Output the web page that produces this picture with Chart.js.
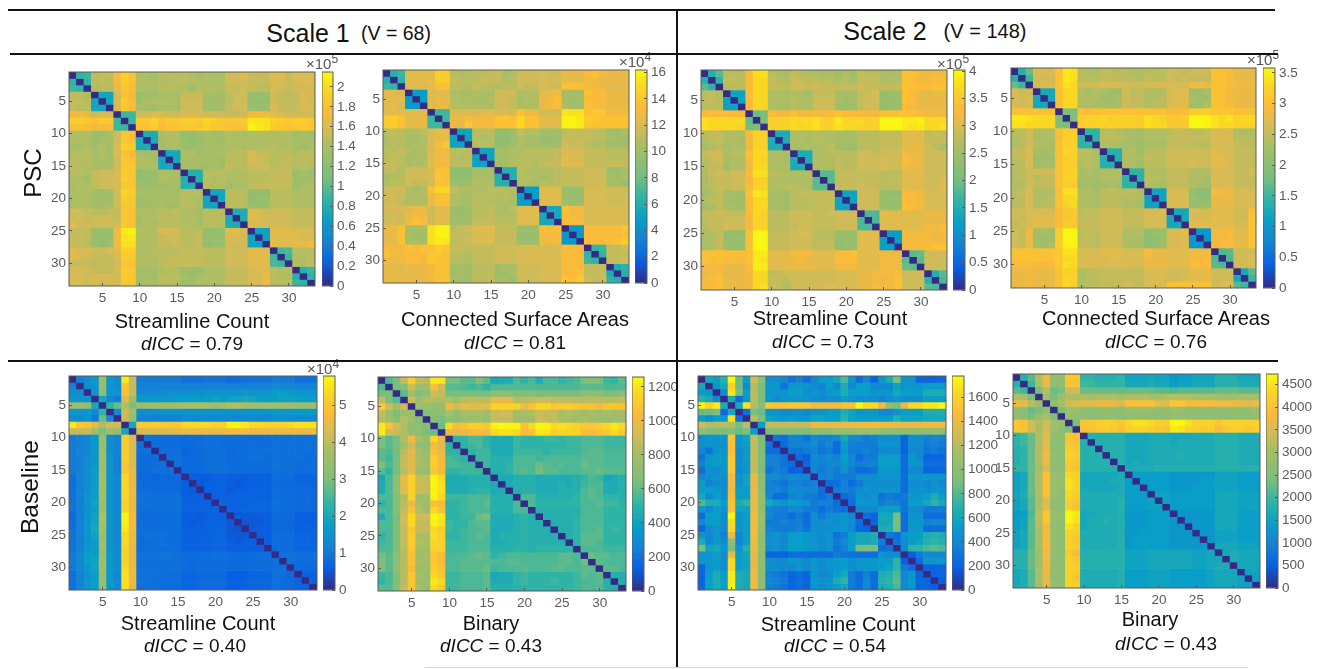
<!DOCTYPE html>
<html>
<head>
<meta charset="utf-8">
<title>dICC matrices</title>
<script src="https://cdn.jsdelivr.net/npm/chart.js@4"></script>
<style>
  html, body { margin: 0; background: #fff; overflow: hidden; }
  #page { position: relative; width: 1326px; height: 669px; font-family: "Liberation Sans", sans-serif; color: #111; }
  canvas { position: absolute; filter: blur(0.5px); }
  .txt { position: absolute; white-space: nowrap; transform: translate(-50%, -50%); }
  .rot { transform: translate(-50%, -50%) rotate(-90deg); }
  .exp { position: absolute; font-size: 15px; color: #555; white-space: nowrap; }
  .exp sup { font-size: 12px; line-height: 0; }
  .line { position: absolute; background: #111; }
  .faint { background: #d4d4d4; }
</style>
</head>
<body>
<div id="page"></div>
<script>
// cell values are % of the colorbar top, upper triangle only (row r, columns r+1..33), diagonal is 0
const pscS1Count = [
[40,42,68,70,70,80,90,84,66,66,63,67,68,68,68,66,64,66,65,65,72,72,76,70,70,70,76,76,70,74,74,74],
[40,68,70,68,80,88,84,66,66,64,66,67,67,68,66,66,66,66,65,72,72,72,70,70,70,74,74,70,74,74,74],
[66,68,68,78,86,82,66,65,65,68,67,66,66,62,66,66,66,66,70,70,72,70,68,68,74,72,70,72,72,72],
[33,33,72,84,80,60,62,62,64,64,64,70,70,70,63,63,63,68,72,72,60,60,60,72,70,68,70,74,74],
[33,74,88,82,60,64,66,66,66,64,72,72,72,62,62,63,68,72,72,60,58,58,72,70,70,70,74,72],
[74,86,82,64,64,62,64,64,64,72,72,72,62,62,64,70,72,72,60,60,60,74,70,70,70,74,74],
[42,42,72,72,74,74,72,72,74,74,74,72,72,72,70,70,72,80,80,80,76,74,72,72,72,72],
[42,86,86,90,84,86,86,88,88,86,91,88,86,86,86,86,96,94,94,90,88,86,88,88,86],
[84,84,88,82,84,86,86,86,86,88,86,86,84,84,84,98,96,94,88,86,84,86,86,86],
[36,36,64,66,66,58,58,62,64,62,62,66,64,64,66,66,66,66,66,66,62,64,62],
[36,64,66,66,60,58,60,64,64,62,66,66,66,66,66,66,66,66,66,64,64,64],
[64,64,66,60,60,62,64,64,64,66,66,64,66,66,66,68,66,66,64,62,64],
[34,34,66,66,62,64,64,64,68,68,68,74,70,70,68,68,68,66,68,68],
[34,66,64,64,64,64,62,68,68,68,74,72,70,68,68,70,68,68,68],
[64,64,64,62,64,62,70,68,68,72,72,72,68,70,70,66,68,66],
[38,38,68,68,68,66,66,66,68,68,68,70,70,70,60,64,60],
[38,68,66,68,66,66,66,68,68,68,70,70,70,62,62,62],
[68,66,66,62,64,64,68,70,70,70,70,70,60,64,66],
[33,33,68,68,68,58,58,58,68,68,68,66,66,66],
[33,68,68,68,58,60,60,68,68,68,66,66,66],
[68,68,68,60,60,60,68,68,68,66,66,66],
[36,36,76,74,72,72,72,72,70,70,70],
[36,76,74,72,72,72,72,70,70,70],
[74,74,72,72,72,72,70,70,70],
[32,32,76,76,76,74,74,74],
[32,76,76,76,76,74,74],
[76,76,76,76,78,80],
[42,44,68,68,68],
[42,66,66,68],
[68,66,68],
[38,42],
[40]
];
const pscS1Area = [
[38,42,76,76,76,76,88,88,68,66,66,68,68,70,70,64,66,72,72,72,74,72,72,78,78,78,82,84,80,78,78,78],
[40,76,76,76,78,88,88,70,68,68,68,70,70,70,66,68,72,72,72,74,72,74,78,78,76,80,80,78,78,78,78],
[74,76,74,76,84,84,68,68,66,70,68,68,66,68,68,72,70,70,74,72,72,84,84,84,80,80,78,76,76,78],
[30,30,76,76,76,66,64,64,66,64,64,72,72,72,66,66,66,76,78,80,64,64,64,84,82,82,78,78,78],
[30,76,78,78,66,64,66,64,64,66,72,72,70,64,66,66,78,80,84,64,62,64,82,82,82,78,78,78],
[76,78,78,68,66,66,66,66,66,72,72,70,66,66,66,78,80,82,66,62,64,84,82,80,78,78,78],
[42,42,74,74,74,74,76,76,74,74,74,84,78,78,72,72,72,94,94,94,84,86,86,80,80,80],
[42,78,78,82,80,80,80,84,86,84,92,84,84,76,76,76,98,98,96,88,86,84,84,84,84],
[78,78,86,80,80,80,84,84,84,92,84,84,76,76,76,98,98,96,86,84,84,84,84,84],
[32,32,68,68,68,58,58,60,70,66,66,62,62,62,68,70,70,70,68,68,62,62,64],
[32,68,66,68,56,56,60,66,64,64,60,60,62,70,70,70,70,68,68,64,64,62],
[68,68,68,58,58,62,66,64,64,62,62,62,72,70,72,68,66,66,62,62,62],
[32,32,64,64,66,66,68,68,68,68,70,74,74,74,70,70,70,68,68,68],
[32,64,64,66,66,68,68,68,68,70,76,74,74,70,70,70,68,68,68],
[64,64,66,68,68,66,70,70,70,76,76,76,70,70,70,70,70,70],
[38,38,68,66,66,66,66,68,70,70,70,72,72,72,62,60,64],
[38,68,68,66,64,66,68,70,70,70,72,72,72,64,62,64],
[66,66,64,68,66,68,70,70,70,72,72,72,64,64,60],
[30,30,76,76,76,60,60,60,74,74,74,72,72,72],
[30,76,76,76,60,60,60,74,74,74,72,72,72],
[76,76,76,62,60,60,74,74,74,72,72,72],
[34,34,84,80,80,74,74,74,74,74,74],
[34,82,80,80,74,74,74,74,74,74],
[84,82,82,74,74,74,74,74,74],
[28,28,82,82,82,82,82,86],
[28,82,82,82,82,82,84],
[82,82,82,82,84,88],
[40,42,70,70,72],
[40,70,70,70],
[70,70,72],
[36,40],
[38]
];
const pscS2Count = [
[38,46,68,68,68,82,94,94,68,66,64,70,68,66,66,64,66,62,66,62,70,68,68,66,64,66,84,84,80,78,80,80],
[40,70,70,68,82,92,92,70,68,66,72,70,70,70,68,68,66,68,64,70,70,70,66,66,66,84,82,80,80,82,82],
[66,68,68,82,92,92,70,70,68,72,72,70,72,70,70,70,70,70,72,70,70,70,70,70,84,84,82,82,84,84],
[32,32,82,92,92,66,66,64,66,64,62,70,70,70,64,64,64,70,72,74,58,60,62,84,82,78,76,78,78],
[32,82,92,92,66,66,66,68,66,66,72,72,72,64,62,64,70,72,72,60,60,60,84,82,78,78,78,78],
[82,92,90,66,64,64,68,66,66,72,72,72,62,62,62,70,72,72,58,60,60,82,80,78,78,78,78],
[48,50,82,80,80,84,80,80,82,80,82,84,82,82,82,80,80,84,84,84,84,84,82,80,80,80],
[52,90,90,90,92,92,92,94,90,90,96,92,92,92,90,90,99,99,99,96,96,98,92,92,92],
[90,90,90,92,90,92,94,90,90,94,92,92,90,90,90,99,99,99,96,94,96,92,92,94],
[36,36,66,66,66,68,66,66,64,64,64,68,68,68,70,70,70,76,76,76,68,70,70],
[36,66,66,64,68,66,66,64,64,64,68,68,68,70,70,70,76,76,76,70,70,70],
[64,64,66,66,66,68,62,62,62,68,68,68,70,70,70,76,78,78,72,68,66],
[36,36,66,66,68,68,68,68,72,72,70,72,72,72,80,78,78,72,72,72],
[36,66,66,66,70,68,68,72,72,72,74,72,72,82,80,78,72,72,72],
[66,66,66,70,68,68,72,72,72,74,72,72,80,78,78,72,72,72],
[46,46,70,70,70,70,70,70,68,68,68,76,76,76,72,72,72],
[46,70,70,70,70,70,70,68,70,70,76,76,76,72,72,74],
[70,70,70,72,70,70,68,68,70,76,76,76,72,72,76],
[32,32,72,72,72,60,58,58,82,82,80,74,74,74],
[32,72,72,72,60,60,60,82,82,80,74,74,74],
[72,72,72,60,60,60,84,82,80,74,74,74],
[44,44,76,76,76,76,76,76,78,78,78],
[44,76,76,76,76,76,76,78,78,78],
[76,76,76,78,76,76,80,80,82],
[30,30,80,80,80,80,78,80],
[30,80,80,80,80,80,80],
[80,80,80,82,84,84],
[46,48,72,72,72],
[46,72,72,72],
[72,72,72],
[38,46],
[44]
];
const pscS2Area = [
[38,48,74,74,74,84,96,94,68,66,66,70,68,68,68,66,66,68,68,68,72,72,70,72,72,72,84,84,82,78,78,78],
[42,72,72,72,84,96,94,68,68,68,70,70,68,68,68,66,70,68,68,72,70,72,70,70,70,84,84,82,78,78,78],
[72,74,74,84,94,92,72,72,72,74,74,74,72,72,72,74,74,74,74,74,74,80,80,78,84,84,82,80,80,80],
[34,34,84,92,92,66,64,66,64,62,62,72,68,70,66,66,66,74,76,76,62,62,64,84,84,80,78,78,78],
[34,84,92,92,66,66,66,62,62,64,72,70,70,66,66,68,74,76,76,64,62,62,84,84,80,78,78,78],
[84,92,92,66,66,64,64,62,64,72,70,70,66,68,68,74,76,76,62,62,66,84,84,82,78,78,78],
[52,52,84,82,84,84,84,84,84,84,84,84,84,84,82,82,82,88,88,88,86,86,86,84,84,84],
[52,88,90,90,92,88,90,90,90,88,94,92,90,86,86,88,99,99,98,94,92,94,90,92,92],
[88,90,90,90,90,88,90,90,88,94,92,92,86,86,86,99,99,98,94,92,92,90,90,90],
[40,40,68,68,66,64,64,62,66,66,66,68,70,70,68,68,70,74,74,74,66,64,66],
[40,68,68,68,66,64,64,66,66,66,70,70,70,70,70,70,74,74,74,68,68,68],
[66,66,66,64,64,60,64,64,64,70,70,70,68,68,68,74,74,74,70,68,68],
[38,38,66,66,62,68,68,68,72,72,72,72,72,72,76,74,74,70,70,70],
[38,66,66,64,70,68,68,72,72,72,72,72,72,76,76,74,70,70,70],
[66,66,62,68,68,68,72,72,72,74,72,72,76,76,74,70,70,70],
[40,40,68,66,66,70,70,70,66,66,66,74,74,74,70,70,72],
[40,68,68,66,70,70,70,66,66,64,74,74,74,70,70,70],
[66,66,64,70,70,70,66,64,64,74,74,74,70,70,70],
[32,32,74,74,74,58,56,56,82,80,78,74,74,74],
[32,74,74,74,60,58,58,78,78,78,74,74,74],
[74,74,74,60,60,60,78,78,78,74,74,74],
[34,34,74,74,74,76,76,76,72,72,84],
[34,74,74,74,76,76,76,72,72,84],
[76,76,76,76,76,76,74,74,84],
[28,28,80,80,82,76,76,84],
[28,80,80,82,76,76,84],
[80,82,82,78,78,84],
[44,46,72,72,72],
[44,72,72,74],
[72,72,74],
[34,46],
[42]
];
const baseS1Count = [
[20,24,28,60,28,24,96,70,18,18,18,18,18,18,15,15,15,16,16,16,13,14,15,16,16,16,18,18,18,15,15,15],
[24,26,60,26,24,86,70,20,20,20,20,20,20,20,20,20,20,20,20,20,20,20,20,20,20,22,22,22,20,20,20],
[26,58,28,26,84,70,22,22,22,24,24,24,24,24,24,26,26,26,26,26,28,26,26,26,30,30,28,26,26,26],
[34,22,18,76,62,28,28,28,28,28,30,30,30,30,30,32,30,32,32,34,32,30,30,30,32,32,30,30,30],
[40,48,66,50,60,60,60,62,62,62,64,64,64,64,62,62,66,66,64,62,62,62,60,62,62,60,60,60],
[22,72,62,24,24,24,26,26,26,26,26,26,26,26,26,26,26,26,26,26,26,28,28,28,28,28,28],
[72,58,20,20,20,20,20,20,22,22,22,22,22,22,22,22,22,22,22,22,24,24,24,22,22,22],
[34,88,88,88,88,86,86,92,92,92,92,90,90,98,98,96,92,92,90,90,90,92,94,94,94],
[74,74,74,74,74,76,78,78,78,78,78,78,80,80,80,78,78,78,78,78,78,78,78,78],
[15,15,14,14,14,13,14,14,15,15,15,14,14,14,14,14,14,15,15,15,15,15,15],
[15,14,14,14,13,13,14,15,15,14,14,14,14,15,14,14,15,15,15,15,15,15],
[14,14,15,12,13,13,15,15,15,13,14,14,15,15,15,15,15,15,15,15,15],
[15,15,13,13,13,15,15,15,13,14,14,15,15,14,16,15,15,15,14,14],
[15,13,13,13,15,15,15,14,14,14,14,14,14,16,15,15,14,14,14],
[13,13,13,15,15,15,14,14,14,14,14,14,15,15,15,14,14,14],
[10,10,10,11,11,10,10,10,11,11,11,14,14,14,12,12,12],
[9,10,11,11,10,9,10,10,11,11,14,13,13,12,12,12],
[10,11,11,9,10,10,11,11,11,14,14,14,13,13,13],
[11,11,11,11,11,11,11,11,14,14,14,13,13,13],
[12,11,11,11,12,12,12,15,14,14,13,13,13],
[11,11,12,12,12,12,15,14,14,13,13,13],
[9,9,9,10,10,14,13,13,10,10,10],
[8,9,9,10,13,13,13,10,10,10],
[9,10,10,13,13,13,10,11,11],
[10,10,14,14,14,12,12,12],
[10,14,14,14,12,12,12],
[14,14,14,12,12,12],
[15,15,15,15,15],
[15,14,14,14],
[13,13,13],
[11,11],
[11]
];
const baseS1Binary = [
[44,50,70,88,70,68,96,96,50,50,46,46,52,46,34,36,36,44,40,44,36,44,44,40,42,44,50,52,50,42,40,46],
[50,52,72,60,62,84,72,46,46,44,42,44,40,44,44,44,44,44,44,44,44,44,44,44,44,46,46,46,44,44,44],
[46,62,52,56,72,70,50,50,50,50,50,50,56,56,56,54,54,54,50,52,52,52,52,52,56,56,56,52,52,54],
[72,60,68,66,66,66,62,68,70,70,68,78,78,76,66,68,70,72,72,70,70,70,68,68,68,68,68,68,70],
[60,60,56,58,80,72,78,76,76,76,90,90,90,90,78,84,92,92,86,88,88,86,84,84,80,86,86,84],
[54,56,56,64,58,64,64,64,62,70,72,72,62,64,66,72,70,70,64,66,64,62,64,62,64,62,64],
[54,50,58,56,60,60,62,58,70,70,70,62,62,62,72,70,70,64,64,62,64,62,60,60,60,60],
[48,92,82,84,88,88,86,98,99,98,98,84,92,99,98,92,94,92,90,86,86,88,92,96,92],
[78,76,78,80,82,80,92,94,94,92,82,84,96,94,88,90,90,90,82,82,84,86,92,86],
[40,40,44,44,40,36,36,36,42,40,40,40,42,42,40,42,42,44,44,44,42,42,42],
[40,42,44,40,36,36,36,42,40,40,40,40,40,40,42,42,44,44,44,42,42,42],
[40,42,42,36,36,36,42,42,42,42,40,42,42,42,42,44,46,46,44,44,44],
[42,42,38,38,38,44,44,44,42,44,44,44,44,44,46,46,46,44,44,44],
[42,38,38,40,44,44,44,48,46,44,46,44,44,48,46,46,44,44,44],
[38,38,40,44,46,44,50,46,46,44,44,44,46,46,48,46,46,46],
[36,36,38,38,38,36,36,36,36,36,38,40,44,42,34,36,38],
[36,38,38,38,36,36,36,38,36,38,42,44,44,36,36,38],
[38,38,38,36,36,36,38,38,38,44,46,44,36,36,38],
[44,44,38,38,38,38,38,40,44,46,44,40,40,38],
[44,40,40,40,40,40,40,44,44,46,42,42,40],
[38,38,38,38,38,38,44,44,44,40,40,40],
[38,38,38,38,40,44,44,44,40,40,40],
[38,38,38,40,44,44,44,40,40,40],
[38,38,40,44,44,46,40,42,40],
[38,40,46,46,46,40,40,40],
[40,46,46,44,40,40,40],
[44,44,44,42,42,42],
[48,46,46,44,44],
[46,44,44,44],
[46,46,44],
[38,38],
[38]
];
const baseS2Count = [
[34,30,38,99,48,30,72,56,24,24,22,16,20,14,22,30,30,34,44,28,14,22,12,28,36,50,26,26,12,12,12,12],
[28,34,90,48,24,66,52,28,26,16,28,28,26,24,20,30,22,36,22,30,30,22,22,22,32,26,28,26,30,30,30],
[22,96,52,30,68,52,26,26,26,30,30,24,26,24,28,30,36,30,30,30,26,28,28,34,30,30,30,36,36,36],
[36,14,28,68,50,28,24,26,28,28,26,24,22,24,24,30,26,24,24,24,20,24,28,24,24,24,30,30,30],
[34,94,66,54,86,84,84,86,86,86,80,80,80,82,84,84,99,92,92,80,56,52,78,92,92,96,96,99],
[14,50,48,26,26,24,24,24,22,26,26,30,30,36,32,26,26,28,22,22,26,30,30,30,36,36,36],
[68,52,32,30,28,30,28,26,32,32,30,30,40,32,30,30,30,30,30,38,32,32,32,34,34,34],
[30,70,70,70,70,70,70,78,78,78,78,78,78,80,80,80,80,80,78,78,78,78,80,80,80],
[52,52,52,52,52,52,56,56,56,58,58,58,60,60,60,56,56,56,56,56,56,56,56,56],
[16,14,20,20,16,24,20,20,22,34,22,22,18,20,24,24,24,12,24,24,20,22,20],
[14,20,20,20,24,18,22,14,30,20,18,18,18,26,26,26,12,24,24,18,20,18],
[16,16,18,20,16,18,14,28,18,18,20,18,22,22,22,12,22,22,16,18,16],
[14,10,24,20,24,20,30,22,14,18,18,30,30,30,14,28,22,12,12,12],
[12,22,20,22,22,28,22,18,20,20,30,30,30,14,26,26,14,14,14],
[22,18,22,18,26,18,14,14,16,28,28,28,14,22,22,12,12,12],
[20,22,18,18,18,24,24,24,26,26,26,14,28,26,28,28,28],
[14,14,20,14,18,24,24,24,24,24,14,24,24,22,26,22],
[18,20,18,24,26,24,26,26,26,14,26,26,24,26,26],
[14,16,26,24,26,16,18,16,18,28,28,30,36,30],
[14,28,26,28,18,22,20,16,30,30,34,40,34],
[22,24,22,30,30,30,16,24,24,18,18,18],
[14,12,34,34,50,14,26,26,14,14,14],
[12,34,34,52,14,28,28,20,22,22],
[36,36,50,14,28,28,14,14,14],
[18,14,26,30,30,36,38,36],
[16,24,30,32,38,40,38],
[24,40,40,44,46,44],
[10,18,22,22,22],
[14,28,28,28],
[12,12,12],
[12,12],
[10]
];
const baseS2Binary = [
[38,46,66,80,58,58,86,86,40,40,38,38,38,40,32,32,32,34,32,32,28,30,30,32,32,32,38,38,38,34,34,34],
[42,64,78,56,56,84,84,42,42,40,40,40,40,34,34,34,36,34,34,30,32,32,34,34,34,38,38,38,36,36,36],
[50,68,48,50,72,72,48,48,48,48,48,48,48,48,48,48,46,46,44,46,46,46,46,46,48,48,48,46,46,46],
[62,50,60,66,64,66,64,66,66,66,64,66,66,66,64,64,66,68,68,66,64,64,64,62,62,62,64,64,64],
[58,64,72,74,76,76,78,80,78,74,84,84,84,84,76,76,86,86,80,82,82,82,80,80,80,78,76,78],
[52,62,62,58,56,56,58,58,56,60,60,60,60,58,58,60,60,58,58,58,58,58,58,58,58,58,60],
[60,56,56,56,56,56,56,56,58,58,58,56,56,56,58,58,58,56,56,56,56,56,56,56,56,56],
[52,86,86,88,90,88,86,92,94,94,92,88,88,99,99,94,90,90,90,86,90,90,90,90,90],
[84,84,86,88,86,84,90,90,90,88,86,84,96,94,90,88,86,88,82,86,88,88,86,88],
[38,38,38,38,38,34,34,34,36,36,36,34,34,34,36,36,36,38,38,38,36,36,36],
[38,38,38,38,34,34,34,36,36,36,34,36,36,36,36,36,38,38,38,36,36,36],
[38,38,38,34,34,34,36,36,36,36,36,36,36,36,36,38,38,38,36,36,36],
[38,38,34,34,34,36,36,36,36,38,36,36,36,36,38,38,38,36,36,36],
[38,34,36,34,36,36,36,36,36,36,36,36,36,38,38,38,36,36,36],
[36,36,36,36,38,38,38,38,38,38,38,38,38,38,38,38,38,38],
[30,30,30,30,30,28,28,28,28,28,28,32,32,32,30,30,30],
[30,30,30,30,28,28,28,28,30,30,32,32,32,30,30,30],
[30,30,30,28,28,28,30,30,30,32,32,32,30,30,30],
[32,32,30,30,30,30,30,30,34,34,34,32,32,32],
[32,30,30,30,30,30,30,34,34,34,32,32,32],
[30,30,30,30,30,30,34,34,34,32,32,32],
[26,26,28,28,28,34,34,34,30,30,30],
[26,28,28,28,34,34,34,30,30,30],
[28,28,28,34,34,34,30,30,30],
[28,28,32,32,32,30,30,30],
[28,32,32,32,30,30,30],
[34,34,34,32,32,32],
[34,36,34,34,34],
[36,34,34,34],
[34,34,34],
[32,32],
[32]
];

// colorbars: top value and tick labels
const barTops = [2.15, 16.2, 4.02, 3.58, 5.8, 1258, 1780, 4736];
const barTicks = [
  [0,0.2,0.4,0.6,0.8,1,1.2,1.4,1.6,1.8,2],
  [0,2,4,6,8,10,12,14,16],
  [0,0.5,1,1.5,2,2.5,3,3.5,4],
  [0,0.5,1,1.5,2,2.5,3,3.5],
  [0,1,2,3,4,5],
  [0,200,400,600,800,1000,1200],
  [0,200,400,600,800,1000,1200,1400,1600],
  [0,500,1000,1500,2000,2500,3000,3500,4000,4500]
];
const matrices = [pscS1Count, pscS1Area, pscS2Count, pscS2Area, baseS1Count, baseS1Binary, baseS2Count, baseS2Binary];
const exponents = ["5", "4", "5", "5", "4"];
const axisLabels = ["1","2","3","4","5","6","7","8","9","10","11","12","13","14","15","16","17","18","19","20","21","22","23","24","25","26","27","28","29","30","31","32","33"];
const axisTicks = [5, 10, 15, 20, 25, 30];

// layout: heatmap box [x, y, w, h], colorbar [x, w], exponent position [x, y]
const plotBoxes = [
  [69, 72, 246, 214], [383, 70, 246, 213], [701, 70, 246, 220], [1011, 68, 245, 220],
  [69, 376, 248, 214], [378, 377, 248, 214], [698, 376, 248, 214], [1013, 374, 247, 214]
];
const barBoxes = [[322, 11], [635, 12], [953, 12], [1263, 12], [323, 12], [632, 12], [952, 12], [1266, 12]];
const expBoxes = [[306, 55], [619, 53], [937, 55], [1247, 51], [307, 360]];

// page text: [text, center x, center y, font px]
const labels = [
  ["Scale 1", 308, 33, 25], ["(V = 68)", 396, 33, 19.5], ["Scale 2", 885, 31, 25], ["(V = 148)", 985, 31, 20],
  ["Streamline Count", 192, 321, 20], ["Connected Surface Areas", 515, 319, 20],
  ["Streamline Count", 830, 318, 20], ["Connected Surface Areas", 1156, 318, 20],
  ["Streamline Count", 198, 623, 20], ["Binary", 491, 623, 20],
  ["Streamline Count", 838, 624, 20], ["Binary", 1150, 619, 20]
];
const scores = [
  ["0.79", 192, 344], ["0.81", 515, 343], ["0.73", 823, 342], ["0.76", 1156, 342],
  ["0.40", 195, 646], ["0.43", 491, 646], ["0.54", 835, 646], ["0.43", 1166, 644]
];
const rowNames = [["PSC", 33, 173, 24], ["Baseline", 30, 487, 24.5]];
// rules: [x, y, w, h, class]
const rules = [[8, 9, 1267, 2, ""], [10, 53, 1268, 2, ""], [8, 360, 1270, 2, ""], [676, 10, 2, 658, ""], [425, 667, 823, 1, "faint"]];

// parula-like colormap
const stops = [
  [0, 53, 42, 135], [0.1, 8, 95, 225], [0.2, 20, 130, 212], [0.3, 8, 158, 200], [0.4, 46, 180, 166],
  [0.5, 120, 190, 125], [0.65, 170, 190, 100], [0.73, 212, 187, 85], [0.82, 250, 187, 58], [0.92, 250, 215, 35], [1, 249, 251, 14]
];
function parula(t) {
  let i = 1;
  while (i < stops.length - 1 && stops[i][0] < t) i++;
  const a = stops[i - 1], b = stops[i];
  const k = Math.min(1, Math.max(0, (t - a[0]) / (b[0] - a[0])));
  const c = [1, 2, 3].map(j => Math.round(a[j] + (b[j] - a[j]) * k));
  return `rgb(${c[0]},${c[1]},${c[2]})`;
}

const page = document.getElementById("page");
const axisColor = "#5a5a5a";
const tickFont = { family: "'Liberation Sans', sans-serif", size: 13.5 };

// MATLAB style closed box round the plot
const boxPlugin = {
  id: "box",
  afterDraw(chart) {
    const a = chart.chartArea, ctx = chart.ctx;
    ctx.save();
    ctx.strokeStyle = axisColor;
    ctx.lineWidth = 1;
    ctx.strokeRect(a.left, a.top, a.right - a.left, a.bottom - a.top);
    ctx.restore();
  }
};

// scales otherwise ask for room for half a tick label and the plot box moves
function noPadding(s) {
  s.paddingTop = 0;
  s.paddingBottom = 0;
  s.paddingLeft = 0;
  s.paddingRight = 0;
}

function addCanvas(x, y, w, h) {
  const c = document.createElement("canvas");
  c.width = w;
  c.height = h;
  c.style.left = x + "px";
  c.style.top = y + "px";
  c.style.width = w + "px";
  c.style.height = h + "px";
  page.appendChild(c);
  return c;
}

function fullMatrix(tri) {
  const n = tri.length + 1;
  const m = [];
  for (let r = 0; r < n; r++) m.push(new Array(n).fill(0));
  tri.forEach((row, r) => row.forEach((v, k) => {
    m[r][r + 1 + k] = v;
    m[r + 1 + k][r] = v;
  }));
  return m;
}

function drawHeatmap(tri, box) {
  const [x, y, w, h] = box;
  const m = fullMatrix(tri);
  const datasets = m.map((row, r) => ({
    data: row.map(() => [r + 0.5, r + 1.5]),
    backgroundColor: row.map(v => parula(v / 100)),
    borderWidth: 0,
    barPercentage: 1,
    categoryPercentage: 1,
    grouped: false
  }));
  new Chart(addCanvas(x - 40, y - 6, w + 46, h + 30), {
    type: "bar",
    data: { labels: axisLabels, datasets },
    plugins: [boxPlugin],
    options: {
      responsive: false,
      animation: false,
      events: [],
      layout: { autoPadding: false, padding: { left: 0, top: 6, right: 6, bottom: 0 } },
      plugins: { legend: { display: false }, tooltip: { enabled: false } },
      scales: {
        x: {
          type: "category",
          grid: { offset: false, drawOnChartArea: false, tickLength: -3, color: axisColor, z: 1 },
          border: { display: false },
          ticks: { autoSkip: false, maxRotation: 0, color: axisColor, font: tickFont, padding: 7 },
          afterBuildTicks: s => { s.ticks = s.ticks.filter(t => axisTicks.includes(t.value + 1)); },
          afterFit: s => { s.height = 24; noPadding(s); }
        },
        y: {
          type: "linear",
          min: 0.5,
          max: 33.5,
          reverse: true,
          grid: { drawOnChartArea: false, tickLength: -3, color: axisColor, z: 1 },
          border: { display: false },
          ticks: { color: axisColor, font: tickFont, padding: 6, callback: v => v },
          afterBuildTicks: s => { s.ticks = axisTicks.map(v => ({ value: v })); },
          afterFit: s => { s.width = 40; noPadding(s); }
        }
      }
    }
  });
}

function drawColorbar(top, ticks, bar, box) {
  const [bx, bw] = bar;
  const [, y, , h] = box;
  const steps = 64;
  const datasets = [];
  for (let i = 0; i < steps; i++) {
    datasets.push({
      data: [[top * i / steps, top * (i + 1) / steps]],
      backgroundColor: parula((i + 0.5) / steps),
      borderWidth: 0,
      barPercentage: 1,
      categoryPercentage: 1,
      grouped: false
    });
  }
  new Chart(addCanvas(bx, y - 6, bw + 46, h + 14), {
    type: "bar",
    data: { labels: [""], datasets },
    plugins: [boxPlugin],
    options: {
      responsive: false,
      animation: false,
      events: [],
      layout: { autoPadding: false, padding: { left: 0, top: 6, right: 0, bottom: 8 } },
      plugins: { legend: { display: false }, tooltip: { enabled: false } },
      scales: {
        x: { display: false },
        y: {
          type: "linear",
          position: "right",
          min: 0,
          max: top,
          grid: { drawOnChartArea: false, tickLength: -3, color: axisColor, z: 1 },
          border: { display: false },
          ticks: { color: axisColor, font: tickFont, padding: 7, callback: v => v },
          afterBuildTicks: s => { s.ticks = ticks.map(v => ({ value: v })); },
          afterFit: s => { s.width = 46; noPadding(s); }
        }
      }
    }
  });
}

function addText(str, x, y, size, cls) {
  const d = document.createElement("div");
  d.className = "txt " + (cls || "");
  d.style.left = x + "px";
  d.style.top = y + "px";
  d.style.fontSize = size + "px";
  d.innerHTML = str;
  page.appendChild(d);
}

matrices.forEach((tri, i) => {
  drawHeatmap(tri, plotBoxes[i]);
  drawColorbar(barTops[i], barTicks[i], barBoxes[i], plotBoxes[i]);
});

expBoxes.forEach((p, i) => {
  const d = document.createElement("div");
  d.className = "exp";
  d.style.left = p[0] + "px";
  d.style.top = p[1] + "px";
  d.innerHTML = `&times;10<sup>${exponents[i]}</sup>`;
  page.appendChild(d);
});

labels.forEach(l => addText(l[0], l[1], l[2], l[3]));
scores.forEach(s => addText(`<i>dICC</i> = ${s[0]}`, s[1], s[2], 19));
rowNames.forEach(r => addText(r[0], r[1], r[2], r[3], "rot"));

rules.forEach(r => {
  const d = document.createElement("div");
  d.className = "line " + r[4];
  d.style.left = r[0] + "px";
  d.style.top = r[1] + "px";
  d.style.width = r[2] + "px";
  d.style.height = r[3] + "px";
  page.appendChild(d);
});
</script>
</body>
</html>
